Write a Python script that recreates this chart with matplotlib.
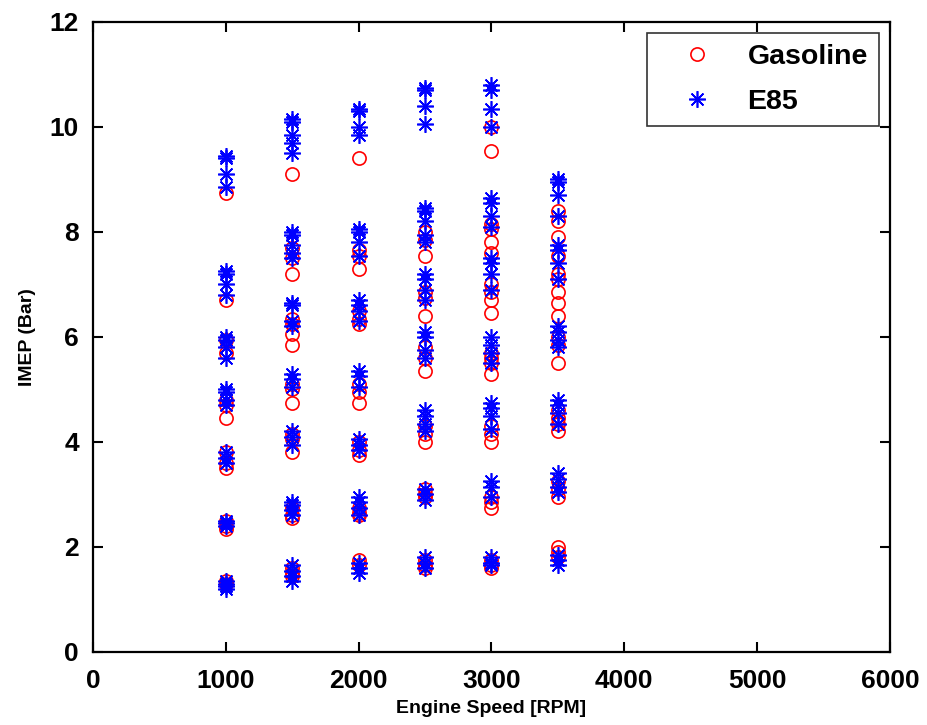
import matplotlib
matplotlib.use("Agg")
import matplotlib.pyplot as plt

plt.rcParams['font.family'] = ['Liberation Sans', 'DejaVu Sans']
plt.rcParams['font.weight'] = 'bold'

speeds = [1000, 1500, 2000, 2500, 3000, 3500]

gas_1000 = [8.75, 6.7, 5.95, 5.7, 4.8, 4.7, 4.45, 3.8, 3.6, 3.5, 2.5, 2.4, 2.35, 1.35, 1.3]
gas_1500 = [9.1, 7.7, 7.5, 7.2, 6.35, 6.25, 6.05, 5.85, 5.1, 5.0, 4.75, 4.15, 4.05, 3.8,
            2.75, 2.6, 2.55, 1.6, 1.5, 1.45]
gas_2000 = [9.4, 7.65, 7.55, 7.3, 6.5, 6.35, 6.25, 5.1, 4.95, 4.75, 4.0, 3.85, 3.75,
            2.75, 2.65, 2.6, 1.75, 1.65]
gas_2500 = [8.0, 7.85, 7.55, 6.85, 6.75, 6.4, 5.8, 5.6, 5.35, 4.3, 4.15, 4.0,
            3.1, 3.0, 2.95, 1.75, 1.65, 1.6]
gas_3000 = [10.0, 9.55, 8.15, 8.05, 7.8, 7.6, 7.0, 6.85, 6.7, 6.45, 5.7, 5.6, 5.5, 5.3,
            4.3, 4.15, 4.0, 2.95, 2.85, 2.75, 1.75, 1.65, 1.6]
gas_3500 = [8.4, 8.2, 7.9, 7.55, 7.2, 7.1, 6.85, 6.65, 6.4, 6.0, 5.85, 5.5,
            4.6, 4.45, 4.35, 4.2, 3.25, 3.1, 2.95, 2.0, 1.9, 1.8]

e85_1000 = [9.45, 9.4, 9.1, 8.85, 7.25, 7.2, 7.0, 6.8, 6.0, 5.95, 5.8, 5.6,
            5.0, 4.95, 4.8, 4.7, 3.8, 3.7, 3.6, 2.5, 2.45, 2.4, 1.35, 1.3, 1.25, 1.2]
e85_1500 = [10.15, 10.1, 9.85, 9.7, 9.5, 8.0, 7.95, 7.75, 7.6, 7.5, 6.65, 6.6, 6.3, 6.2,
            5.3, 5.2, 5.05, 4.2, 4.1, 3.95, 2.85, 2.8, 2.7, 2.6, 1.65, 1.55, 1.45, 1.35]
e85_2000 = [10.35, 10.3, 10.0, 9.85, 8.05, 8.0, 7.8, 7.55, 6.7, 6.6, 6.5, 6.3,
            5.35, 5.25, 5.05, 4.05, 3.95, 3.85, 2.95, 2.85, 2.75, 2.6, 1.7, 1.6, 1.5]
e85_2500 = [10.75, 10.7, 10.4, 10.05, 8.45, 8.4, 8.2, 7.95, 7.8, 7.2, 7.1, 6.9, 6.7,
            6.1, 6.0, 5.75, 5.6, 4.6, 4.5, 4.35, 4.2, 3.1, 3.0, 2.9, 1.8, 1.7, 1.6]
e85_3000 = [10.8, 10.7, 10.35, 10.0, 8.65, 8.55, 8.3, 8.1, 7.5, 7.4, 7.2, 6.9,
            6.0, 5.85, 5.7, 5.5, 4.75, 4.65, 4.5, 4.25, 3.25, 3.15, 2.95, 1.8, 1.7, 1.65]
e85_3500 = [9.0, 8.95, 8.7, 8.3, 7.75, 7.65, 7.4, 7.1, 6.2, 6.1, 5.95, 5.8,
            4.8, 4.7, 4.55, 4.35, 3.4, 3.3, 3.15, 3.05, 1.85, 1.75, 1.65]

gas_sets = [gas_1000, gas_1500, gas_2000, gas_2500, gas_3000, gas_3500]
e85_sets = [e85_1000, e85_1500, e85_2000, e85_2500, e85_3000, e85_3500]

gx, gy, ex, ey = [], [], [], []
for s, g, e in zip(speeds, gas_sets, e85_sets):
    gx += [s] * len(g); gy += g
    ex += [s] * len(e); ey += e

fig = plt.figure(figsize=(9.27, 7.25), dpi=100)
ax = fig.add_axes([0.1003, 0.1007, 0.8598, 0.869])

ax.plot(gx, gy, linestyle='none', marker='o', markersize=9.5, markerfacecolor='none',
        markeredgecolor='#ff0000', markeredgewidth=1.2, label='Gasoline')
ax.plot(ex, ey, linestyle='none', marker=(8, 2, 0), markersize=12,
        color='#0000ff', markeredgecolor='#0000ff', markeredgewidth=1.2, label='E85')

ax.set_xlim(0, 6000)
ax.set_ylim(0, 12)
ax.set_xticks(range(0, 6001, 1000))
ax.set_yticks(range(0, 13, 2))
ax.tick_params(direction='in', top=True, right=True, labelsize=19, width=1.5, length=7)
ax.tick_params(axis='x', pad=12)
ax.tick_params(axis='y', pad=10)
for lab in ax.get_xticklabels() + ax.get_yticklabels():
    lab.set_fontweight('bold')
for sp in ax.spines.values():
    sp.set_linewidth(1.6)

ax.set_xlabel('Engine Speed [RPM]', fontsize=14, fontweight='bold', labelpad=5)
ax.set_ylabel('IMEP (Bar)', fontsize=14, fontweight='bold', labelpad=10)

leg = ax.legend(loc='upper right', fontsize=20.5, frameon=True, fancybox=False,
                edgecolor='black', borderpad=0.38, labelspacing=0.65, handlelength=2.75,
                handletextpad=0.4, borderaxespad=0.4)
leg.get_frame().set_linewidth(1.2)
for t in leg.get_texts():
    t.set_fontweight('bold')

fig.savefig('out.png', dpi=100)
